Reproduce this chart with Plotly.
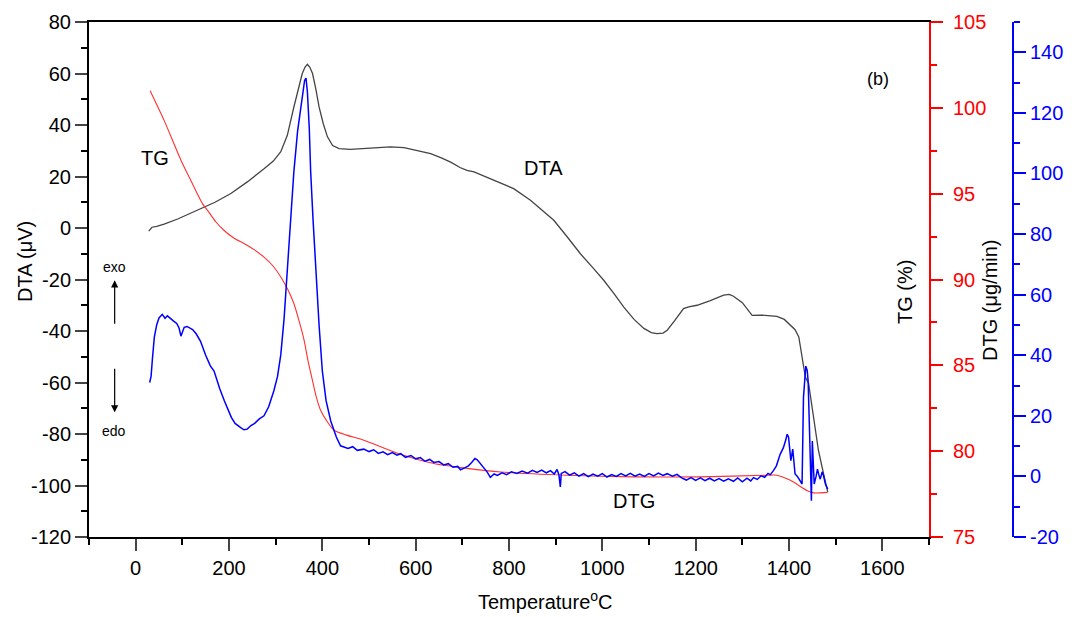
import plotly.graph_objects as go

# ---------------- data ----------------
dta_T = [28, 31, 35, 45, 61, 90, 132, 170, 204, 240, 275, 295, 311, 325, 339, 348, 357, 363, 368, 373,
         379, 386, 393, 402, 411, 422, 436, 460, 489, 520, 546, 575, 603, 632, 655, 675, 695, 710, 725,
         745, 775, 810, 846, 870, 896, 925, 953, 980, 1003, 1025, 1046, 1068, 1089, 1105, 1117, 1130,
         1139, 1155, 1174, 1185, 1203, 1230, 1260, 1272, 1281, 1300, 1321, 1340, 1360, 1374, 1390, 1403,
         1413, 1421, 1428, 1435, 1442, 1453, 1463, 1474, 1483]
dta_v = [-1.2, -0.5, 0.3, 0.6, 1.5, 3.5, 6.9, 10.0, 13.4, 18.0, 23.0, 26.0, 29.6, 36.0, 47.0, 54.0,
         60.0, 62.5, 63.6, 62.5, 60.0, 54.0, 47.0, 40.5, 35.4, 32.0, 30.8, 30.5, 30.8, 31.2, 31.5, 31.2,
         30.2, 28.9, 27.2, 25.6, 23.5, 22.4, 21.8, 20.2, 17.9, 15.3, 10.8, 7.0, 3.0, -3.5, -10.0, -15.5,
         -20.3, -25.5, -30.7, -35.5, -39.0, -40.6, -41.0, -40.8, -39.7, -36.0, -31.3, -30.6, -30.0,
         -28.3, -26.1, -25.8, -26.5, -29.0, -33.9, -33.8, -34.0, -34.3, -35.5, -37.8, -39.5, -42.3,
         -50.0, -57.9, -60.4, -73.4, -86.3, -95.4, -102.5]

tg_T = [31, 61, 97, 118, 132, 143, 154, 172, 189, 211, 232, 254, 275, 293, 311, 325, 339, 350, 361,
        369, 379, 387, 396, 411, 425, 450, 489, 561, 639, 710, 782, 925, 1067, 1210, 1353, 1374, 1403,
        1439, 1453, 1483]
tg_v = [101.0, 99.27, 96.95, 95.78, 95.0, 94.42, 94.03, 93.35, 92.87, 92.4, 92.1, 91.74, 91.3, 90.83,
        90.15, 89.47, 88.6, 87.6, 86.46, 85.3, 84.1, 83.16, 82.4, 81.7, 81.22, 80.95, 80.64, 79.88,
        79.28, 79.0, 78.79, 78.6, 78.5, 78.5, 78.6, 78.6, 78.3, 77.7, 77.57, 77.6]

dtg_T = [30, 33, 36, 40, 45, 50, 57, 63, 68, 75, 82, 88, 93, 97, 100, 104, 110, 116, 122, 130, 139,
         150, 160, 168, 180, 190, 197, 205, 213, 220, 225, 232, 239, 247, 255, 265, 275, 285, 296, 304,
         311, 318, 325, 332, 339, 347, 354, 358, 362, 365, 368, 372, 375, 380, 386, 393, 400, 408, 418,
         430, 439, 446, 455, 465, 475, 489, 500, 510, 520, 530, 540, 550, 560, 568, 578, 590, 600, 610,
         620, 630, 639, 650, 660, 670, 680, 690, 696, 705, 713, 720, 727, 732, 740, 748, 753, 760, 768,
         775, 785, 795, 805, 817, 828, 840, 850, 860, 870, 880, 889, 897, 903, 907, 910, 912, 920, 930,
         940, 950, 960, 970, 980, 990, 1000, 1010, 1020, 1030, 1040, 1050, 1060, 1070, 1080, 1090, 1100,
         1110, 1120, 1130, 1139, 1150, 1160, 1170, 1180, 1190, 1200, 1210, 1220, 1230, 1240, 1250, 1260,
         1270, 1281, 1290, 1300, 1310, 1318, 1324, 1332, 1340, 1348, 1355, 1360, 1367, 1373, 1381, 1388,
         1393, 1396, 1399, 1401, 1404, 1408, 1413, 1418, 1423, 1428, 1431, 1434, 1436, 1439, 1441, 1444,
         1448, 1450, 1454, 1458, 1461, 1464, 1467, 1471, 1474, 1478, 1483]
dtg_v = [31.0, 33.0, 39.0, 46.0, 50.0, 52.3, 53.5, 52.2, 53.0, 52.0, 51.2, 50.5, 49.0, 46.3, 47.5,
         49.2, 49.5, 49.0, 48.5, 47.0, 44.6, 40.0, 36.5, 34.8, 29.0, 25.0, 22.7, 19.5, 17.5, 16.5, 16.1,
         15.4, 15.6, 16.8, 17.5, 19.0, 20.0, 23.0, 28.2, 33.0, 40.2, 52.0, 67.7, 84.0, 100.6, 114.0,
         122.5, 127.0, 130.7, 131.5, 126.9, 115.0, 100.6, 85.0, 67.7, 50.0, 34.8, 25.0, 18.3, 13.0, 10.1,
         9.6, 9.2, 9.8, 8.6, 9.0, 8.2, 8.8, 7.6, 8.1, 7.2, 7.9, 7.0, 7.5, 6.3, 6.9, 5.8, 6.2, 5.0, 5.6,
         4.6, 4.9, 3.8, 4.2, 3.0, 3.3, 2.2, 2.8, 3.5, 4.6, 5.9, 5.5, 4.0, 2.6, 1.5, -0.3, 0.8, 0.3, 1.2,
         0.6, 1.5, 1.0, 1.8, 1.1, 2.0, 1.3, 2.1, 1.2, 1.9, 0.8, 2.3, 0.5, -3.5, 1.0, 1.6, 0.4, 1.2, 0.1,
         0.9, -0.1, 0.8, 0.1, 0.9, -0.2, 0.6, 0.0, 0.9, 0.2, 1.0, 0.1, 0.8, 0.0, 0.9, 0.2, 1.1, 0.3, 0.9,
         0.1, 0.7, -0.5, -1.2, -0.4, -1.3, -0.5, -1.4, -0.6, -1.5, -0.7, -1.6, -0.8, -1.6, -0.5, -1.8,
         -0.6, -1.5, -0.4, -1.0, 0.2, -0.3, 1.0, 0.6, 2.0, 3.5, 7.3, 9.5, 12.0, 13.9, 13.0, 10.6, 5.2,
         9.0, 0.8, 0.0, -1.4, -2.5, 26.0, 33.0, 36.4, 35.0, 31.5, 15.0, -8.0, 11.7, -2.5, 0.0, 2.4, 0.5,
         -0.9, 1.5, 0.2, -2.5, -4.2]

x_ticks = [0, 200, 400, 600, 800, 1000, 1200, 1400, 1600]
dta_ticks = [-120, -100, -80, -60, -40, -20, 0, 20, 40, 60, 80]
tg_ticks = [75, 80, 85, 90, 95, 100, 105]
dtg_ticks = [-20, 0, 20, 40, 60, 80, 100, 120, 140]

FONT = "Arial, Liberation Sans, sans-serif"

fig = go.Figure()
fig.add_trace(go.Scatter(x=dta_T, y=dta_v, mode="lines", line=dict(color="#444444", width=1.3),
                         yaxis="y", showlegend=False))
fig.add_trace(go.Scatter(x=tg_T, y=tg_v, mode="lines", line=dict(color="#ff3030", width=1.1,
                         shape="spline", smoothing=0.6), yaxis="y2", showlegend=False))
fig.add_trace(go.Scatter(x=dtg_T, y=dtg_v, mode="lines", line=dict(color="#0000ff", width=1.5),
                         yaxis="y3", showlegend=False))

W, H = 1078, 617
L, R, T, B = 89, 40, 22, 80
pw = W - L - R
ph = H - T - B
xdom_end = (929 - L) / pw


def xp(px):
    return (px - L) / pw


def yp(py):
    return (H - B - py) / ph


def labels(vals):
    return [str(v) for v in vals]


fig.update_layout(
    width=W, height=H,
    margin=dict(l=L, r=R, t=T, b=B),
    plot_bgcolor="white", paper_bgcolor="white",
    font=dict(family=FONT, size=20, color="black"),
    xaxis=dict(domain=[0, xdom_end], range=[-100, 1700], tickvals=x_ticks, ticktext=labels(x_ticks),
               ticks="outside", ticklen=12, tickwidth=2, showline=True, linewidth=2,
               linecolor="black", mirror=True, showgrid=False, zeroline=False,
               tickfont=dict(size=20, family=FONT),
               minor=dict(dtick=100, tick0=0, ticks="outside", ticklen=6, tickwidth=2,
                          tickcolor="black")),
    yaxis=dict(range=[-120, 80], tickvals=dta_ticks, ticktext=labels(dta_ticks), ticks="outside",
               ticklen=12, tickwidth=2, showline=True, linewidth=2, linecolor="black",
               showgrid=False, zeroline=False, tickfont=dict(size=20, family=FONT),
               minor=dict(dtick=10, ticks="outside", ticklen=6, tickwidth=2, tickcolor="black")),
    yaxis2=dict(range=[75, 105], tickvals=tg_ticks, ticktext=labels(tg_ticks), overlaying="y",
                side="right", anchor="x", ticklabelstandoff=6,
                ticks="outside", ticklen=12, tickwidth=2, tickcolor="#ff0000",
                showline=True, linewidth=2, linecolor="#ff0000", showgrid=False, zeroline=False,
                tickfont=dict(size=20, family=FONT, color="#ff0000"),
                minor=dict(dtick=2.5, ticks="outside", ticklen=6, tickwidth=2, tickcolor="#ff0000")),
    yaxis3=dict(range=[-20, 150], tickvals=dtg_ticks, ticktext=labels(dtg_ticks),
                overlaying="y", side="right", anchor="free", position=xp(1013),
                ticks="outside", ticklen=12, tickwidth=2, tickcolor="#0000ff",
                showline=True, linewidth=2, linecolor="#0000ff", showgrid=False, zeroline=False,
                tickfont=dict(size=20, family=FONT, color="#0000ff"),
                minor=dict(dtick=10, ticks="outside", ticklen=6, tickwidth=2, tickcolor="#0000ff")),
)

C = dict(xanchor="center", yanchor="middle", showarrow=False)
ann = []
# axis titles
ann.append(dict(text="DTA (μV)", x=xp(25), y=yp(262), xref="paper", yref="paper", textangle=-90,
                font=dict(size=20), **C))
ann.append(dict(text="TG (%)", x=xp(905), y=yp(292), xref="paper", yref="paper", textangle=-90,
                font=dict(size=20), **C))
ann.append(dict(text="DTG (μg/min)", x=xp(990), y=yp(300), xref="paper", yref="paper", textangle=-90,
                font=dict(size=20), **C))
ann.append(dict(text="Temperature<sup>o</sup>C", x=xp(545), y=yp(600), xref="paper", yref="paper",
                font=dict(size=20), **C))
# curve labels
ann.append(dict(text="TG", x=41, y=27, xref="x", yref="y", font=dict(size=20), **C))
ann.append(dict(text="DTA", x=874, y=23.2, xref="x", yref="y", font=dict(size=20), **C))
ann.append(dict(text="DTG", x=1067, y=-106, xref="x", yref="y", font=dict(size=20), **C))
ann.append(dict(text="(b)", x=1591, y=58, xref="x", yref="y", font=dict(size=18), **C))
# exo / edo markers
ann.append(dict(text="exo", x=-45, y=-15.3, xref="x", yref="y", font=dict(size=14), **C))
ann.append(dict(text="edo", x=-46, y=-79, xref="x", yref="y", font=dict(size=14), **C))
ann.append(dict(text="", x=-45, y=-20.3, xref="x", yref="y", showarrow=True, ax=0, ay=45,
                arrowhead=2, arrowsize=1.2, arrowwidth=1.2, arrowcolor="black"))
ann.append(dict(text="", x=-45, y=-71.6, xref="x", yref="y", showarrow=True, ax=0, ay=-45,
                arrowhead=2, arrowsize=1.2, arrowwidth=1.2, arrowcolor="black"))
fig.update_layout(annotations=ann)

fig.write_html("out.html")
